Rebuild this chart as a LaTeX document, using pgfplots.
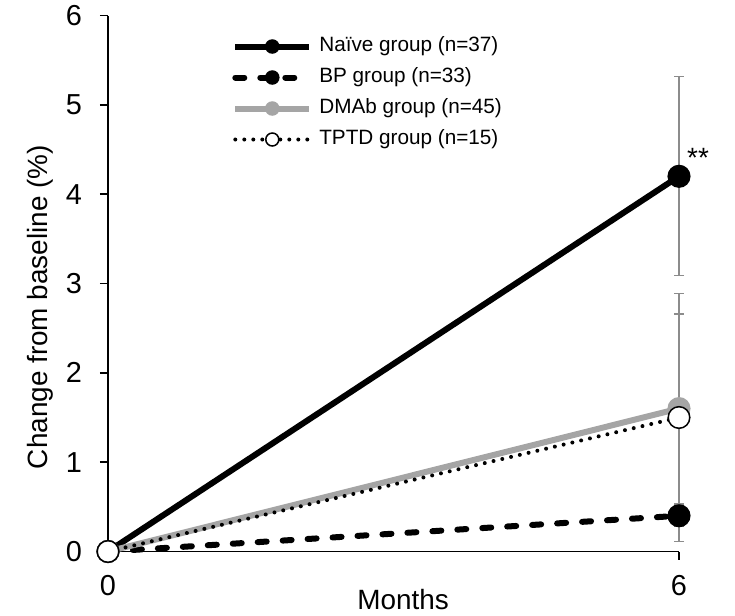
\documentclass[border=0pt]{standalone}
\usepackage{pgfplots}
\pgfplotsset{compat=1.18}
\usepackage{fontspec}
\setmainfont{Liberation Sans}
\definecolor{dgrey}{HTML}{A5A5A5}
\definecolor{egrey}{HTML}{8C8C8C}
\pgfplotsset{ebar/.style={egrey, line width=0.75bp, mark=none, forget plot, error bars/.cd, y dir=both, y explicit,
  error bar style={line width=0.75bp, egrey}, error mark options={rotate=90, egrey, mark size=2.5bp, line width=0.75bp}}}
\begin{document}
\begin{tikzpicture}
\begin{axis}[
  scale only axis, width=285.5bp, height=268bp,
  xmin=0, xmax=6, ymin=0, ymax=6,
  axis lines*=left,
  axis line style={line width=0.75bp, black},
  xtick={0,6}, ytick={0,1,...,6},
  tick align=outside, major tick length=4bp,
  tick style={line width=0.75bp, black},
  /pgf/number format/assume math mode=true,
  ticklabel style={font=\fontsize{14.5}{17}\selectfont},
  yticklabel style={xshift=-5.5bp},
  xticklabel style={yshift=-4.5bp},
  xlabel={Months}, ylabel={Change from baseline (\%)},
  label style={font=\fontsize{14}{17}\selectfont},
  xlabel style={at={(axis description cs:0.517,-0.109)}, anchor=base},
  ylabel style={at={(axis description cs:-0.1068,0.456)}, anchor=base},
  clip=false,
  legend cell align=left,
  legend image code/.code={
    \draw[#1] (0bp,0bp) -- (37bp,0bp);
    \draw[#1, mark size=3.25bp] plot coordinates {(18.5bp,0bp)};
  },
  legend style={draw=none, fill=none, at={(axis description cs:0.217,0.961)}, anchor=north west,
    font=\fontsize{10.4}{12}\selectfont, row sep=5.8bp, column sep=3.5bp, inner sep=0pt,
    nodes={inner sep=0bp, text height=7.5bp, text depth=2.2bp}},
]
% error bars
\addplot[ebar] coordinates {(6,4.205) +- (0,1.115)};
\addplot[ebar] coordinates {(6,1.6) +- (0,1.06)};
\addplot[ebar] coordinates {(6,1.5) +- (0,1.39)};
\addplot[ebar] coordinates {(6,0.4) +- (0,0.12)};
% series
\addplot[black, line width=3bp, mark=*, mark size=5.4bp, mark options={solid, fill=black, line width=0.75bp}]
  coordinates {(0,0) (6,4.2)};
\addlegendentry{Naïve group (n=37)}
\addplot[black, line width=3bp, dash pattern=on 4.5bp off 8bp, line cap=round, mark=*, mark size=5.4bp,
  mark options={solid, fill=black, line width=0.75bp}]
  coordinates {(0,0) (6,0.4)};
\addlegendentry{BP group (n=33)}
\addplot[dgrey, line width=3bp, mark=*, mark size=5.4bp, mark options={solid, fill=dgrey, draw=dgrey, line width=0.75bp}]
  coordinates {(0,0) (6,1.6)};
\addlegendentry{DMAb group (n=45)}
\addplot[black, line width=2bp, dash pattern=on 0bp off 4.5bp, line cap=round, mark=*, mark size=5.4bp,
  mark options={solid, fill=white, draw=black, line width=0.75bp}]
  coordinates {(0,0) (6,1.5)};
\addlegendentry{TPTD group (n=15)}
\node[font=\fontsize{14}{17}\selectfont] at (axis cs:6.2,4.41) {**};
\coordinate (bbsw) at (rel axis cs:0,0);
\coordinate (bbne) at (rel axis cs:1,1);
\end{axis}
\pgfresetboundingbox
\path[use as bounding box] ([shift={(-54bp,-32.25bp)}]bbsw) rectangle ([shift={(28bp,7.75bp)}]bbne);
\end{tikzpicture}
\end{document}
